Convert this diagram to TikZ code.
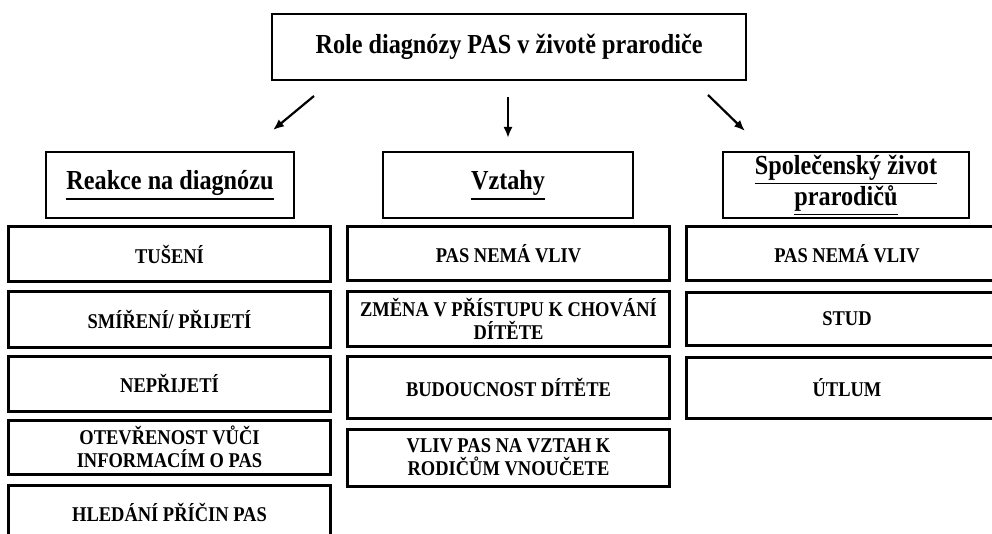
\documentclass[tikz,border=0pt]{standalone}
\usepackage{fontspec}
\setmainfont[FakeStretch=0.88]{Liberation Serif}
\newcommand{\headul}[1]{\leavevmode\vtop{\hbox{#1}\kern2.5pt\hrule height1.5pt}}
\usetikzlibrary{arrows.meta,positioning}

\begin{document}
\begin{tikzpicture}[x=1pt,y=-1pt]
    \tikzstyle{mainbox}=[draw=black,line width=2.5pt,minimum width=474pt,minimum height=66pt,inner sep=0pt,font=\bfseries\fontsize{27.5}{30}\selectfont]
    \tikzstyle{headbox}=[draw=black,line width=2.5pt,minimum height=66pt,inner sep=0pt,align=center,font=\bfseries\fontsize{27.5}{29}\selectfont]
    \tikzstyle{itembox}=[draw=black,line width=3pt,minimum width=322pt,minimum height=55pt,inner sep=0pt,align=center,font=\bfseries\fontsize{21}{23}\selectfont]
    \tikzstyle{pointer}=[line width=2.2pt,-{Latex[length=11pt,width=9pt]}]

  \clip (0,0) rectangle (992,534);

  \node[mainbox] (role) at (509,47) {Role diagnózy PAS v životě prarodiče};

  % headers
  \node[headbox,minimum width=248pt] (reakce) at (170,185) {\headul{Reakce na diagnózu}};
  \node[headbox,minimum width=250pt] (vztahy) at (508,185) {\headul{Vztahy}};
  \node[headbox,minimum width=246pt] (spol) at (846,185) {\headul{Společenský život}\\\headul{prarodičů}};

  % arrows
  \coordinate (a1s) at (314,96);
  \coordinate (a1e) at (273,130);
  \coordinate (a2s) at (508,97);
  \coordinate (a2e) at (508,138);
  \coordinate (a3s) at (708,95);
  \coordinate (a3e) at (745,131);
  \draw[pointer] (a1s) -- (a1e);
  \draw[pointer] (a2s) -- (a2e);
  \draw[pointer] (a3s) -- (a3e);

  % reakce
  \node[itembox] (tuseni) at (169.5,254.5) {TUŠENÍ};
  \node[itembox] (smireni) at (169.5,319.5) {SMÍŘENÍ/ PŘIJETÍ};
  \node[itembox] (neprijeti) at (169.5,383.5) {NEPŘIJETÍ};
  \node[itembox,minimum height=54pt] (otevrenost) at (169.5,447) {OTEVŘENOST VŮČI\\INFORMACÍM O PAS};
  \node[itembox] (hledani) at (169.5,512.5) {HLEDÁNÍ PŘÍČIN PAS};

  % vztahy
  \node[itembox,minimum height=54pt] (nemavliv) at (508.5,254) {PAS NEMÁ VLIV};
  \node[itembox,minimum height=54pt] (zmena) at (508.5,319) {ZMĚNA V PŘÍSTUPU K CHOVÁNÍ\\DÍTĚTE};
  \node[itembox,minimum height=62pt] (budoucnost) at (508.5,387) {BUDOUCNOST DÍTĚTE};
  \node[itembox,minimum height=57pt] (vlivpas) at (508.5,457.5) {VLIV PAS NA VZTAH K\\RODIČŮM VNOUČETE};

  % spolecensky zivot
  \node[itembox,minimum height=54pt] (nemavliv2) at (847,254) {PAS NEMÁ VLIV};
  \node[itembox,minimum height=53pt] (stud) at (847,319) {STUD};
  \node[itembox,minimum height=61pt] (utlum) at (847,387.5) {ÚTLUM};
    \end{tikzpicture}
\end{document}
